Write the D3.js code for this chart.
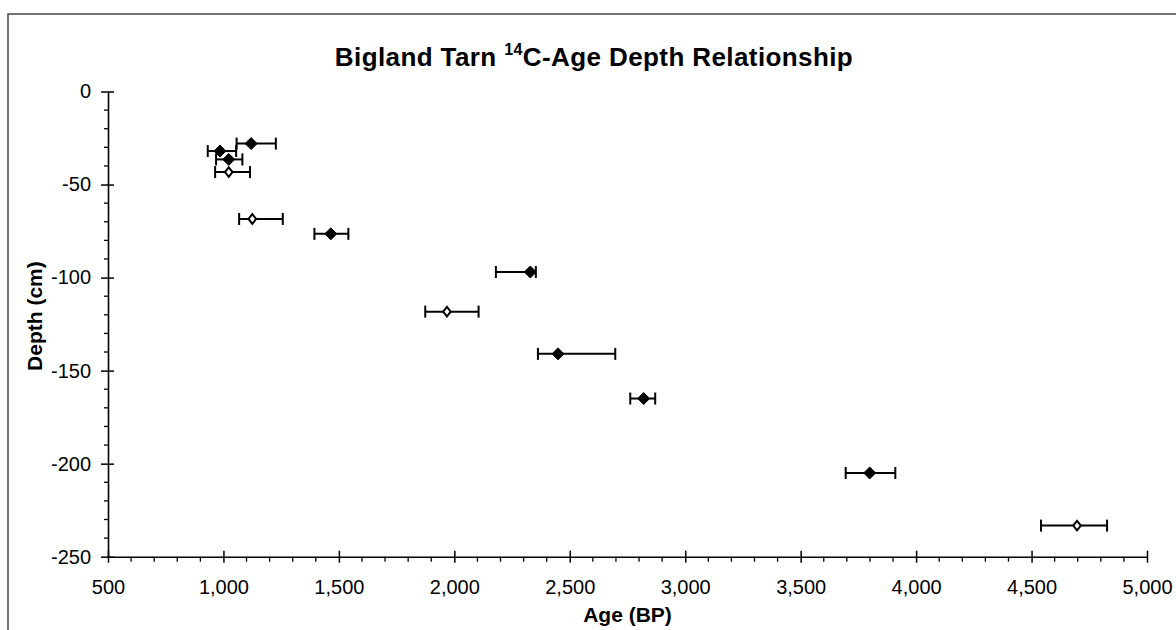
<!DOCTYPE html>
<html>
<head>
<meta charset="utf-8">
<script src="https://cdn.jsdelivr.net/npm/d3@7"></script>
<style>
  body { margin: 0; background: #fff; }
  text { font-family: Arial, "Liberation Sans", sans-serif; fill: #000; }
</style>
</head>
<body>
<div id="chart"></div>
<script>
// radiocarbon dates, filled diamonds
const solidAge = [1120, 985, 1023, 1465, 2329, 2449, 2820, 3799];
const solidDepth = [-28, -32, -36.5, -76.5, -97, -141, -165, -205];
const solidLo = [1057, 932, 968, 1394, 2180, 2362, 2762, 3695];
const solidHi = [1227, 1055, 1082, 1541, 2353, 2697, 2870, 3910];

// open diamonds
const hollowAge = [1023, 1125, 1968, 4697];
const hollowDepth = [-43.3, -68.5, -118.3, -233.3];
const hollowLo = [964, 1068, 1874, 4541];
const hollowHi = [1115, 1257, 2105, 4827];

const xTicks = [500, 1000, 1500, 2000, 2500, 3000, 3500, 4000, 4500, 5000];
const yTicks = [0, -50, -100, -150, -200, -250];

const W = 1176, H = 630;
const margin = { top: 91.5, right: 29, bottom: 73.3, left: 108 },
      width = W - margin.left - margin.right,
      height = H - margin.top - margin.bottom;

const root = d3.select("#chart").append("svg")
    .attr("width", W)
    .attr("height", H);

// outer frame (right/bottom fall outside the picture)
root.append("rect")
    .attr("x", 8).attr("y", 14)
    .attr("width", W + 20).attr("height", H + 20)
    .attr("fill", "none")
    .attr("stroke", "#444")
    .attr("stroke-width", 1.5);

const svg = root.append("g")
    .attr("transform", `translate(${margin.left},${margin.top})`);

const x = d3.scaleLinear().domain([500, 5000]).range([0, width]);
const y = d3.scaleLinear().domain([0, -250]).range([0, height]);

// minor ticks
const xMinor = d3.range(500, 5001, 100).filter(v => v % 500 !== 0);
const yMinor = d3.range(0, -251, -10).filter(v => v % 50 !== 0);

svg.append("g").selectAll("line")
    .data(xMinor).join("line")
    .attr("x1", d => x(d)).attr("x2", d => x(d))
    .attr("y1", height).attr("y2", height + 5)
    .attr("stroke", "#000").attr("stroke-width", 1.3);

svg.append("g").selectAll("line")
    .data(yMinor).join("line")
    .attr("y1", d => y(d)).attr("y2", d => y(d))
    .attr("x1", 0).attr("x2", -4)
    .attr("stroke", "#000").attr("stroke-width", 1.3);

// x axis
const gx = svg.append("g")
    .attr("transform", `translate(0,${height})`)
    .call(d3.axisBottom(x).tickValues(xTicks).tickSizeOuter(0).tickSizeInner(6)
        .tickPadding(17).tickFormat(d3.format(",")));
gx.select(".domain").attr("stroke-width", 1.6);
gx.selectAll(".tick line").attr("y1", -6).attr("stroke-width", 1.5);
gx.selectAll(".tick text").attr("font-size", 20).attr("font-family", "Arial, 'Liberation Sans', sans-serif");

// y axis, plain hyphen for the minus sign
const gy = svg.append("g")
    .call(d3.axisLeft(y).tickValues(yTicks).tickSizeOuter(0).tickSizeInner(7)
        .tickPadding(10).tickFormat(d => String(d)));
gy.select(".domain").attr("stroke-width", 1.6);
gy.selectAll(".tick line").attr("x1", 6).attr("stroke-width", 1.5);
gy.selectAll(".tick text").attr("font-size", 20).attr("font-family", "Arial, 'Liberation Sans', sans-serif");

// error bars and markers
function drawSeries(ages, depths, lo, hi, filled) {
    const data = ages.map((a, i) => ({ age: a, depth: depths[i], lo: lo[i], hi: hi[i] }));
    const g = svg.append("g");
    g.selectAll("line.bar").data(data).join("line")
        .attr("class", "bar")
        .attr("x1", d => x(d.lo)).attr("x2", d => x(d.hi))
        .attr("y1", d => y(d.depth)).attr("y2", d => y(d.depth))
        .attr("stroke", "#000").attr("stroke-width", 2);
    g.selectAll("line.capl").data(data).join("line")
        .attr("class", "capl")
        .attr("x1", d => x(d.lo)).attr("x2", d => x(d.lo))
        .attr("y1", d => y(d.depth) - 6).attr("y2", d => y(d.depth) + 6)
        .attr("stroke", "#000").attr("stroke-width", 2);
    g.selectAll("line.caph").data(data).join("line")
        .attr("class", "caph")
        .attr("x1", d => x(d.hi)).attr("x2", d => x(d.hi))
        .attr("y1", d => y(d.depth) - 6).attr("y2", d => y(d.depth) + 6)
        .attr("stroke", "#000").attr("stroke-width", 2);
    const rx = filled ? 6 : 3.8, ry = filled ? 6 : 4.8;
    g.selectAll("path").data(data).join("path")
        .attr("d", `M0,${-ry}L${rx},0L0,${ry}L${-rx},0Z`)
        .attr("transform", d => `translate(${x(d.age)},${y(d.depth)})`)
        .attr("fill", filled ? "#000" : "#fff")
        .attr("stroke", "#000")
        .attr("stroke-width", filled ? 1 : 2);
}

drawSeries(solidAge, solidDepth, solidLo, solidHi, true);
drawSeries(hollowAge, hollowDepth, hollowLo, hollowHi, false);

// title
const title = root.append("text")
    .attr("x", 594)
    .attr("y", 66)
    .attr("text-anchor", "middle")
    .attr("font-size", 26)
    .attr("letter-spacing", 0.4)
    .attr("font-weight", "bold");
title.append("tspan").text("Bigland Tarn ");
title.append("tspan").attr("font-size", 16).attr("dy", -11).text("14");
title.append("tspan").attr("dy", 11).text("C-Age Depth Relationship");

// axis titles
root.append("text")
    .attr("x", margin.left + width / 2)
    .attr("y", 622)
    .attr("text-anchor", "middle")
    .attr("font-size", 21)
    .attr("font-weight", "bold")
    .text("Age (BP)");

root.append("text")
    .attr("transform", `translate(42,${margin.top + height / 2 - 8}) rotate(-90)`)
    .attr("text-anchor", "middle")
    .attr("font-size", 21)
    .attr("font-weight", "bold")
    .text("Depth (cm)");
</script>
</body>
</html>
